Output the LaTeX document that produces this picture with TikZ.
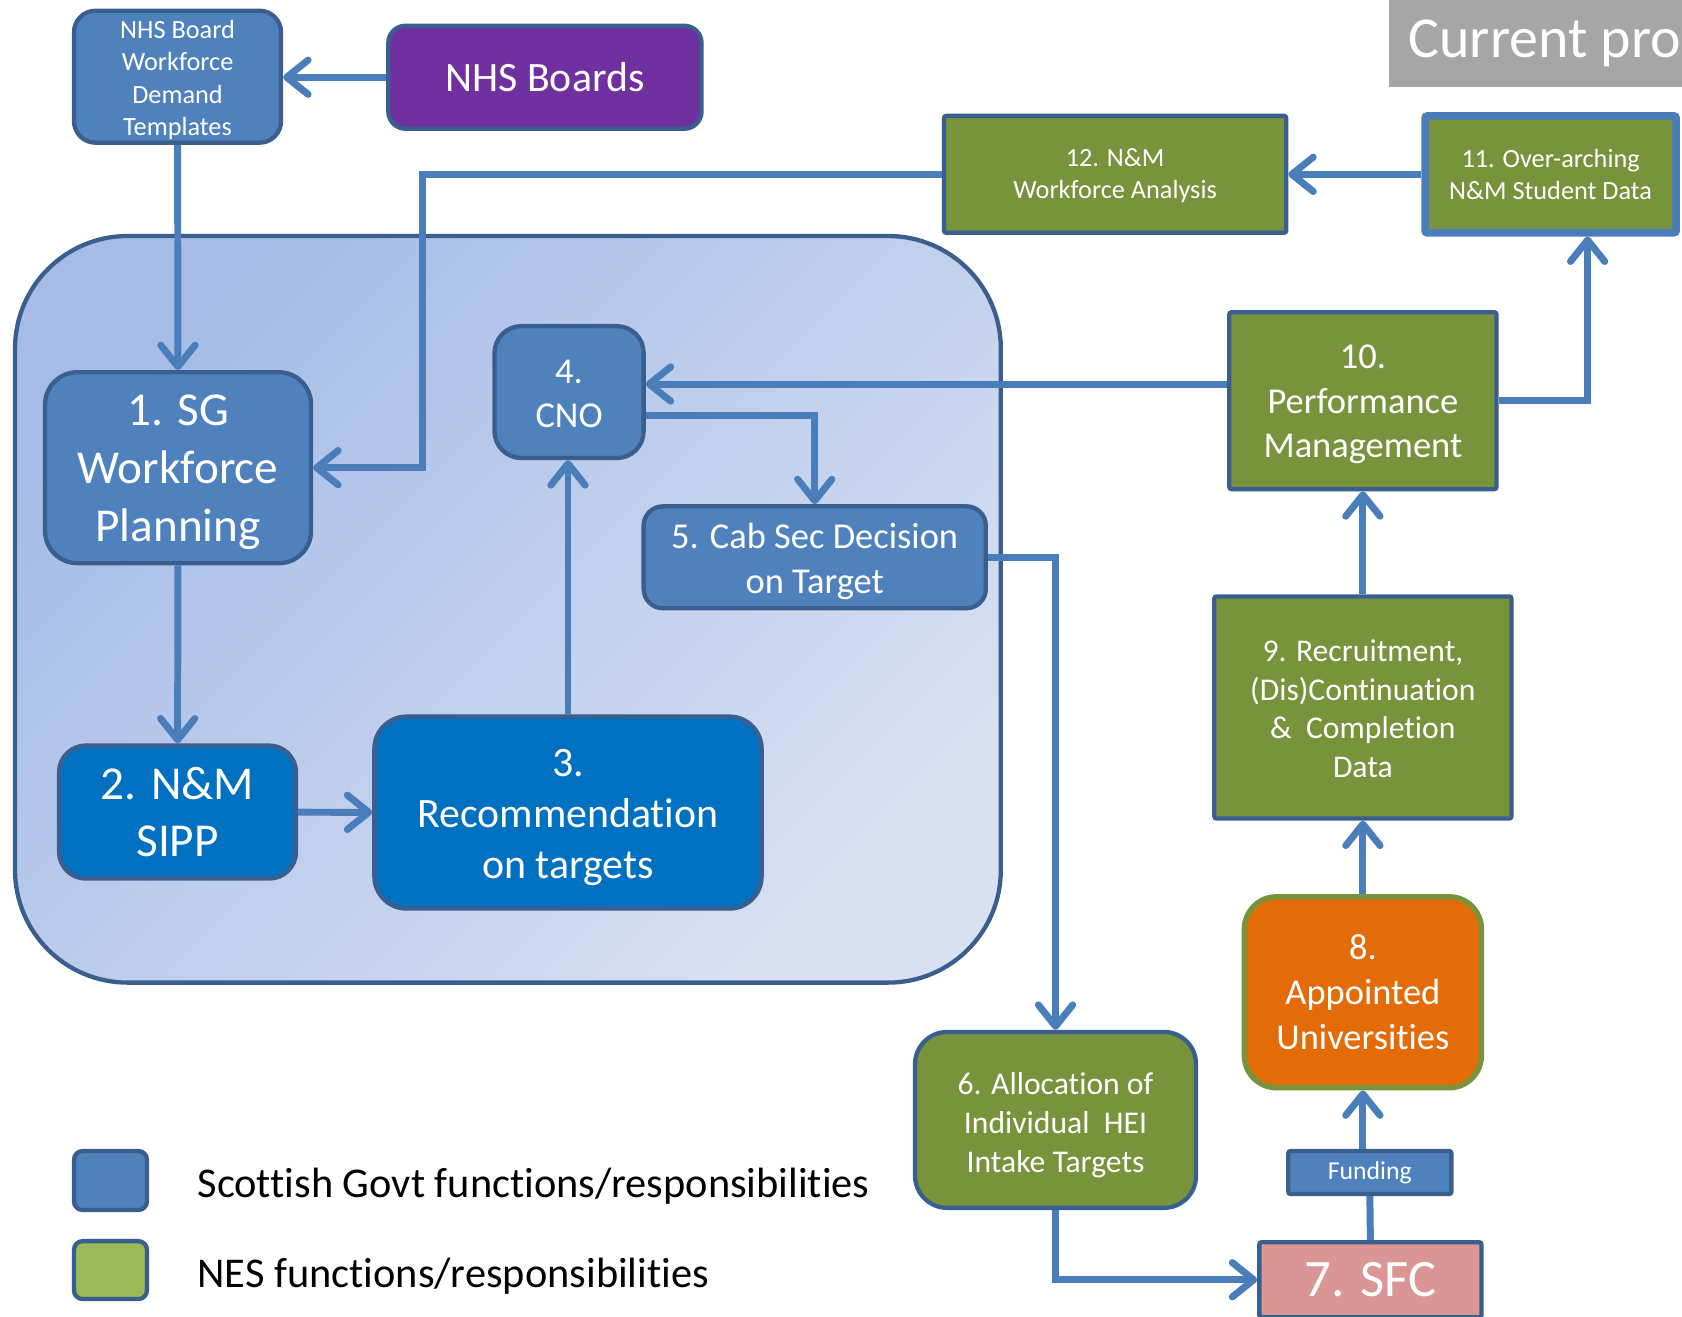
\documentclass[tikz,border=0pt]{standalone}
\usepackage{fontspec}
\setmainfont{Carlito}[Ligatures=NoCommon]
\usetikzlibrary{arrows.meta}

\definecolor{sgblue}{HTML}{4F81BD}
\definecolor{sgline}{HTML}{3A5F8E}
\definecolor{flowblue}{HTML}{4A7EBB}
\definecolor{deepblue}{HTML}{0070C0}
\definecolor{nesgreen}{HTML}{77933C}
\definecolor{leggreen}{HTML}{9BBB59}
\definecolor{nhspurple}{HTML}{7030A0}
\definecolor{uniorange}{HTML}{E36C09}
\definecolor{sfcpink}{HTML}{D99694}
\definecolor{titlegrey}{HTML}{A6A6A6}
\definecolor{regiontop}{HTML}{A6BCE6}
\definecolor{regionbot}{HTML}{D8E0F2}

\newcommand{\fsz}[2]{\fontsize{#1}{#2}\selectfont}
\newcommand{\dropl}[1]{\rule{0pt}{#1}}

\tikzset{
  box/.style={draw=sgline, line width=4pt, text=white, align=center, inner sep=0pt},
  sgbox/.style={box, fill=sgblue},
  deepbox/.style={box, fill=deepblue},
  nesbox/.style={box, fill=nesgreen, rounded corners=2pt},
  flow/.style={draw=flowblue, line width=6.5pt, -{Straight Barb[length=20pt,width=32pt,round]}},
  link/.style={draw=flowblue, line width=6.5pt},
}

\begin{document}
\begin{tikzpicture}[x=1pt,y=-1pt]
\useasboundingbox (0,0) rectangle (1568,1227);
\clip (0,0) rectangle (1568,1227);

% shaded area round the SG steps
\draw[line width=4pt, draw=sgline, rounded corners=105pt, top color=regiontop, bottom color=regionbot, shading angle=45]
  (14,220) rectangle (933,916);

\node[anchor=west, fill=titlegrey, text=white, minimum height=81pt, inner xsep=18pt, inner ysep=0pt, font=\fsz{54pt}{60pt}] (title) at (1295,40.5) {Current process};

\node[sgbox, rounded corners=20pt, minimum width=193pt, minimum height=123pt, font=\fsz{24.5pt}{30pt}] (templ) at (165.5,71.5)
  {\dropl{23pt}NHS Board\\Workforce\\Demand\\Templates};
\node[box, fill=nhspurple, rounded corners=16pt, minimum width=292pt, minimum height=96pt, font=\fsz{39pt}{47pt}] (boards) at (508,72)
  {NHS Boards};

\node[sgbox, rounded corners=30pt, minimum width=248pt, minimum height=178pt, font=\fsz{44pt}{54pt}] (sg) at (166,436)
  {\dropl{37pt}1. SG\\Workforce\\Planning};
\node[deepbox, rounded corners=25pt, minimum width=221pt, minimum height=124pt, font=\fsz{44pt}{54pt}] (sipp) at (165.5,757)
  {2. N\&M\\SIPP};
\node[deepbox, rounded corners=30pt, minimum width=361pt, minimum height=179pt, font=\fsz{39pt}{47.5pt}] (rec) at (529.5,757.5)
  {\dropl{34.5pt}3.\\Recommendation\\on targets};
\node[sgbox, rounded corners=25pt, minimum width=139pt, minimum height=123pt, font=\fsz{34pt}{41pt}] (cno) at (530.5,365.5)
  {\dropl{25.5pt}4.\\CNO};
\node[sgbox, rounded corners=18pt, minimum width=319pt, minimum height=95pt, font=\fsz{34pt}{42pt}] (cab) at (759.5,519.5)
  {\dropl{31.5pt}5. Cab Sec Decision\\on Target};

\node[nesbox, minimum width=319pt, minimum height=109pt, font=\fsz{24.5pt}{30pt}] (n12) at (1039.5,162.5)
  {\dropl{19.5pt}12. N\&M\\Workforce Analysis};
\node[nesbox, draw=flowblue, line width=7pt, minimum width=234pt, minimum height=109pt, font=\fsz{24.5pt}{30pt}] (n11) at (1445.5,162.5)
  {11. Over-arching\\N\&M Student Data};
\node[nesbox, minimum width=249pt, minimum height=165pt, font=\fsz{34pt}{41.5pt}] (n10) at (1270.5,373.5)
  {\dropl{29.5pt}10.\\Performance\\Management};
\node[nesbox, minimum width=277pt, minimum height=207pt, font=\fsz{29.5pt}{36pt}] (n9) at (1270.5,659.5)
  {\dropl{23pt}9. Recruitment,\\(Dis)Continuation\\\&\ \ Completion\\Data};
\node[box, fill=uniorange, draw=nesgreen, line width=5pt, rounded corners=30pt, minimum width=221pt, minimum height=178pt, font=\fsz{34pt}{42pt}] (n8) at (1270.5,925)
  {8.\\Appointed\\Universities};
\node[box, fill=nesgreen, rounded corners=30pt, minimum width=262pt, minimum height=164pt, font=\fsz{29.5pt}{36pt}] (n6) at (984,1044)
  {\dropl{30.5pt}6. Allocation of\\Individual\ \ HEI\\Intake Targets};
\node[sgbox, rounded corners=2pt, minimum width=152pt, minimum height=40pt, font=\fsz{24pt}{30pt}] (fund) at (1277,1093)
  {Funding};
\node[box, fill=sfcpink, rounded corners=2pt, minimum width=207pt, minimum height=70pt, font=\fsz{49pt}{58pt}] (sfc) at (1277.5,1193)
  {7. SFC};

% legend
\node[sgbox, rounded corners=8pt, minimum width=68pt, minimum height=55pt] (legsg) at (103,1100.5) {};
\node[box, fill=leggreen, rounded corners=8pt, minimum width=68pt, minimum height=54pt] (legnes) at (103,1184) {};
\node[anchor=west, inner sep=0pt, font=\fsz{39.5pt}{48pt}] (legsgtxt) at (184,1106) {Scottish Govt functions/responsibilities};
\node[anchor=west, inner sep=0pt, font=\fsz{39.5pt}{48pt}] (legnestxt) at (184,1190) {NES functions/responsibilities};

% connectors
\coordinate (c1) at (394,436);
\coordinate (cnoin) at ([yshift=7.5pt]cno.east);
\coordinate (cnoout) at ([yshift=-21.5pt]cno.east);
\coordinate (c11) at ([xshift=34.5pt]n11.south);

\draw[flow] (boards.west) -- (boards.west -| templ.east);
\draw[flow] (templ) -- (sg);
\draw[flow] (n12.west) -| (c1) -- (sg.east);
\draw[flow] (sg) -- (sipp);
\draw[flow] (sipp) -- (rec);
\draw[flow] (rec.north) -- (rec.north |- cno.south);
\draw[flow] (cnoout) -| (cab.north);
\draw[flow] (n10.west |- cnoin) -- (cnoin);
\draw[flow] (cab.east) -| (n6.north);
\draw[flow] (n6.south) |- (sfc.west);
\draw[link] (sfc.north) -- (fund.south);
\draw[flow] (fund.north -| n8.south) -- (n8.south);
\draw[flow] (n8) -- (n9);
\draw[flow] (n9) -- (n10);
\draw[flow] (n10.east) -| (c11);
\draw[flow] (n11) -- (n12);
\end{tikzpicture}
\end{document}
